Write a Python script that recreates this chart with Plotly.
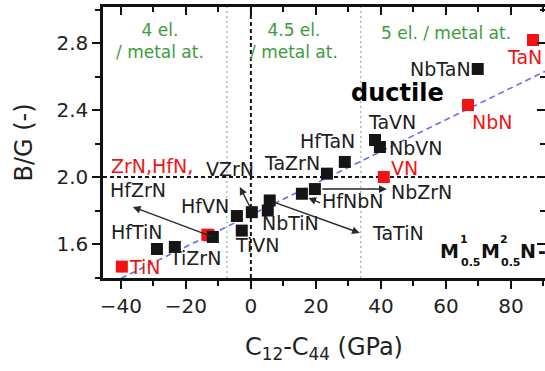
import plotly.graph_objects as go

# Elastic data: C12-C44 (GPa) and Pugh ratio B/G
binary_names = ["TiN", "ZrN", "HfN", "VN", "NbN", "TaN"]
binary_c = [-39.7, -13.4, -13.0, 40.9, 66.8, 86.8]
binary_bg = [1.465, 1.656, 1.652, 2.00, 2.43, 2.818]

ternary_names = ["HfTiN", "TiZrN", "HfZrN", "HfVN", "TiVN", "VZrN", "NbTiN", "TaTiN",
                 "HfNbN", "NbZrN", "TaZrN", "HfTaN", "TaVN", "NbVN", "NbTaN"]
ternary_c = [-28.9, -23.4, -11.7, -4.3, -2.8, 0.3, 5.2, 5.8,
             15.7, 19.7, 23.4, 28.9, 38.2, 39.7, 69.8]
ternary_bg = [1.570, 1.582, 1.642, 1.767, 1.680, 1.790, 1.800, 1.860,
              1.900, 1.928, 2.020, 2.090, 2.221, 2.179, 2.645]

# linear trend (dashed blue)
fit_c = [-45.5, 92.0]
fit_bg = [1.342, 2.645]

# valence-electron boundaries and ductility thresholds
vec_bounds = [-7.4, 33.8]
pugh_limit = 2.0
cauchy_zero = 0.0

X_RANGE = [-45.5, 90.5]
Y_RANGE = [1.397, 3.015]

FONT = "DejaVu Sans"
RED = "#f21414"
BLACK = "#151515"
GREEN = "#3c9c3c"

fig = go.Figure()

# dummy trace so the mirrored top/right axes get drawn
fig.add_trace(go.Scatter(x=[0], y=[2], xaxis="x2", yaxis="y2", mode="markers",
                         marker=dict(opacity=0), hoverinfo="skip", showlegend=False))

fig.add_trace(go.Scatter(x=fit_c, y=fit_bg, mode="lines",
                         line=dict(color="#6c6cee", width=1.6, dash="6px,4px"),
                         hoverinfo="skip", showlegend=False))

fig.add_trace(go.Scatter(x=binary_c, y=binary_bg, mode="markers",
                         marker=dict(symbol="square", size=12, color=RED),
                         text=binary_names, showlegend=False))
fig.add_trace(go.Scatter(x=ternary_c, y=ternary_bg, mode="markers",
                         marker=dict(symbol="square", size=12, color=BLACK),
                         text=ternary_names, showlegend=False))

# reference lines
for xv in vec_bounds:
    fig.add_shape(type="line", xref="x", yref="paper", x0=xv, x1=xv, y0=0, y1=1,
                  line=dict(color="#9ccf9c", width=1.5, dash="2px,3px"), layer="below")
fig.add_shape(type="line", xref="paper", yref="y", x0=0, x1=1, y0=pugh_limit, y1=pugh_limit,
              line=dict(color=BLACK, width=2, dash="4px,3px"), layer="below")
fig.add_shape(type="line", xref="x", yref="paper", x0=cauchy_zero, x1=cauchy_zero, y0=0, y1=1,
              line=dict(color=BLACK, width=2, dash="4px,3px"), layer="below")

# compound labels (text position for each name)
label_pos = {
    "TiN": (-32.6, 1.463), "HfTiN": (-35.1, 1.672), "TiZrN": (-17.2, 1.516),
    "ZrN,HfN,": (-30.5, 2.066), "HfZrN": (-34.8, 1.922), "HfVN": (-14.2, 1.827),
    "TiVN": (1.9, 1.594), "VZrN": (-6.3, 2.05), "NbTiN": (12.3, 1.725),
    "TaTiN": (45.3, 1.666), "HfNbN": (31.3, 1.857), "NbZrN": (52.4, 1.91),
    "TaZrN": (12.6, 2.084), "HfTaN": (23.7, 2.215), "TaVN": (43.4, 2.328),
    "NbVN": (50.7, 2.173), "VN": (47.4, 2.054), "NbN": (74.2, 2.328),
    "NbTaN": (58.2, 2.645), "TaN": (84.3, 2.716),
}
red_labels = {"TiN", "ZrN,HfN,", "VN", "NbN", "TaN"}
for name, (lx, ly) in label_pos.items():
    fig.add_annotation(x=lx, y=ly, text=name, showarrow=False,
                       font=dict(family=FONT, size=19, color=RED if name in red_labels else "#202020"))

# arrows from points to their labels (tail -> head)
arrows = [
    ((-11.7, 1.642), (-36.3, 1.821)),
    ((0.3, 1.80), (-3.4, 1.94)),
    ((7.0, 1.85), (33.5, 1.666)),
    ((21.5, 1.928), (41.8, 1.928)),
    ((21.8, 1.842), (17.7, 1.875)),
]
for (tx, ty), (hx, hy) in arrows:
    fig.add_annotation(x=hx, y=hy, ax=tx, ay=ty, xref="x", yref="y", axref="x", ayref="y",
                       text="", showarrow=True, arrowhead=2, arrowsize=1.1, arrowwidth=1.4,
                       arrowcolor="#2a2a2a", standoff=0, startstandoff=0)

# valence electron concentration notes
fig.add_annotation(x=-28.0, y=2.81, text="4 el.<br>/ metal at.", showarrow=False,
                   font=dict(family=FONT, size=17, color=GREEN))
fig.add_annotation(x=13.2, y=2.81, text="4.5 el.<br>/ metal at.", showarrow=False,
                   font=dict(family=FONT, size=17, color=GREEN))
fig.add_annotation(x=60.0, y=2.862, text="5 el. / metal at.", showarrow=False,
                   font=dict(family=FONT, size=17, color=GREEN))

fig.add_annotation(x=45.2, y=2.501, text="<b>ductile</b>", showarrow=False,
                   font=dict(family=FONT, size=24, color="#000000"))

# M1_0.5 M2_0.5 N label with stacked indices
formula_parts = [
    ("M", 61.1, 1.558, 19), ("1", 65.5, 1.624, 11), ("0.5", 67.6, 1.492, 11),
    ("M", 73.6, 1.558, 19), ("2", 77.8, 1.624, 11), ("0.5", 79.9, 1.492, 11),
    ("N", 85.2, 1.558, 19), ("-", 89.5, 1.558, 19),
]
for txt, fx, fy, fs in formula_parts:
    fig.add_annotation(x=fx, y=fy, text="<b>" + txt + "</b>", showarrow=False,
                       font=dict(family=FONT, size=fs, color="#111111"))

tick_font = dict(family=FONT, size=20, color="#222222")
fig.update_layout(
    width=545, height=371,
    margin=dict(l=103, r=0, t=7, b=93),
    paper_bgcolor="white", plot_bgcolor="white",
    xaxis=dict(range=X_RANGE, tick0=0, dtick=20, ticks="outside", ticklen=8, tickwidth=2,
               tickcolor="#111", showline=True, linewidth=2.5, linecolor="#111",
               showgrid=False, zeroline=False, tickfont=tick_font,
               minor=dict(dtick=10, ticks="outside", ticklen=5, tickwidth=2, tickcolor="#111"),
               title=dict(text="C<sub>12</sub>-C<sub>44</sub> (GPa)",
                          font=dict(family=FONT, size=24, color="#222222"), standoff=22)),
    yaxis=dict(range=Y_RANGE, tick0=1.6, dtick=0.4, ticks="outside", ticklen=8, tickwidth=2,
               tickcolor="#111", showline=True, linewidth=2.5, linecolor="#111",
               showgrid=False, zeroline=False, tickfont=tick_font, tickformat=".1f",
               minor=dict(dtick=0.2, ticks="outside", ticklen=5, tickwidth=2, tickcolor="#111"),
               title=dict(text="B/G (-)", font=dict(family=FONT, size=24, color="#222222"),
                          standoff=18)),
    xaxis2=dict(overlaying="x", side="top", matches="x", range=X_RANGE, tick0=0, dtick=20,
                ticks="inside", ticklen=8, tickwidth=2, tickcolor="#111",
                showline=True, linewidth=2.5, linecolor="#111", showticklabels=False,
                showgrid=False, zeroline=False,
                minor=dict(dtick=10, ticks="inside", ticklen=5, tickwidth=2, tickcolor="#111")),
    yaxis2=dict(overlaying="y", side="right", matches="y", range=Y_RANGE, tick0=1.6, dtick=0.4,
                ticks="inside", ticklen=8, tickwidth=2, tickcolor="#111",
                showline=False, showticklabels=False, showgrid=False, zeroline=False,
                minor=dict(dtick=0.2, ticks="inside", ticklen=5, tickwidth=2, tickcolor="#111")),
)

fig.write_html("out.html")
